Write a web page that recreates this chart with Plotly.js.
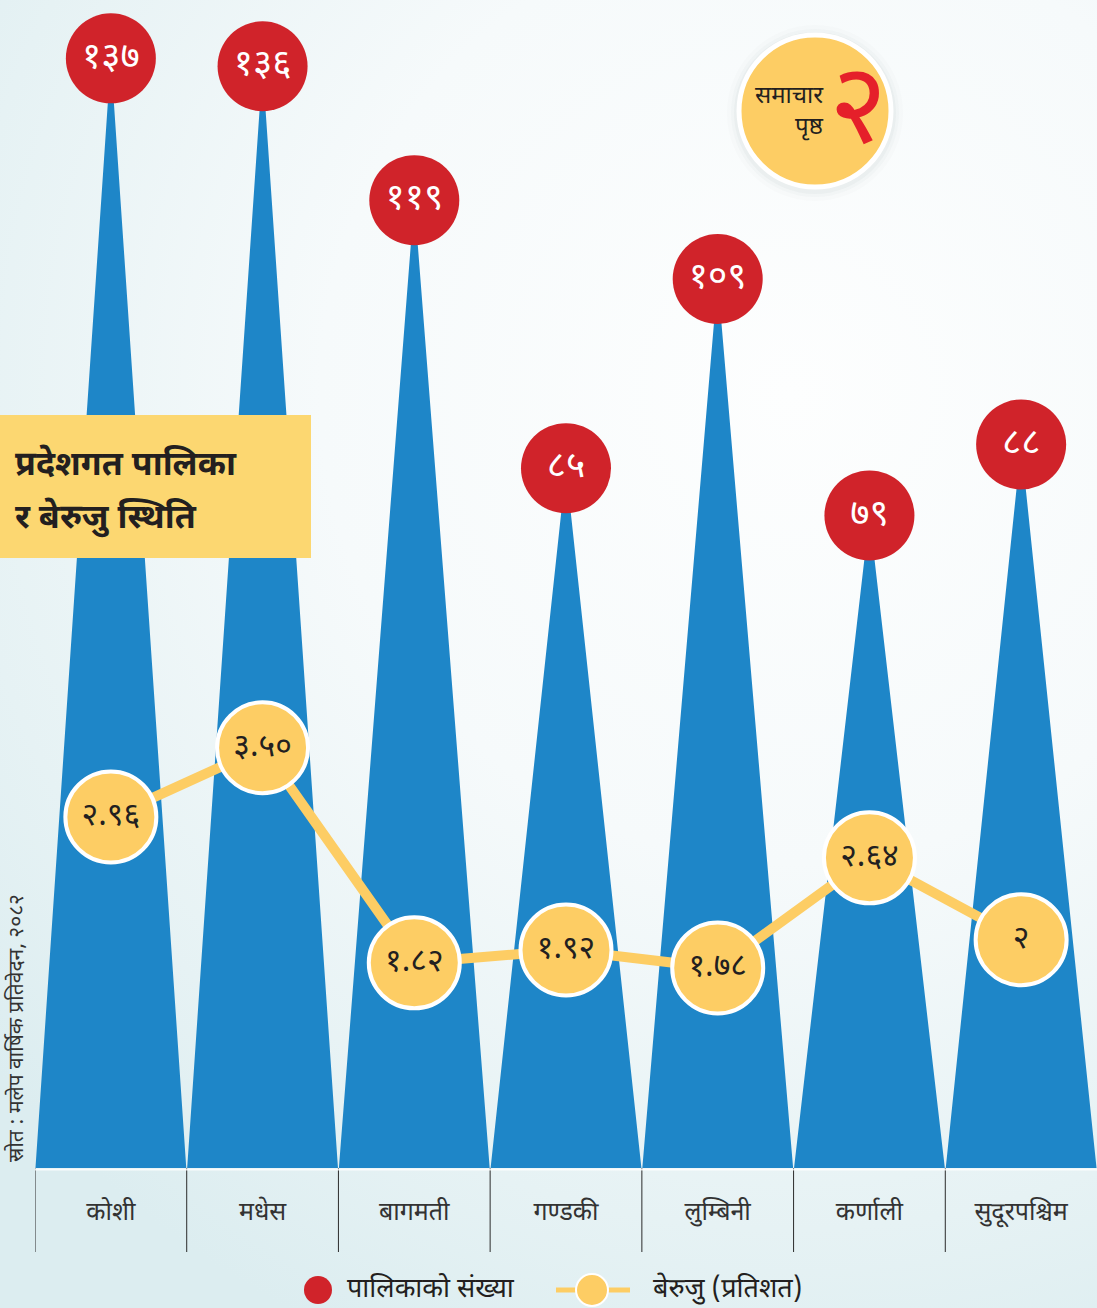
<!DOCTYPE html>
<html>
<head>
<meta charset="utf-8">
<script src="https://cdn.plot.ly/plotly-3.0.1.min.js"></script>
<style>
  html, body { margin: 0; padding: 0; }
  body {
    width: 1097px; height: 1308px; overflow: hidden;
    background: radial-gradient(ellipse 95% 80% at 72% 30%, #fdfefe 0%, #f6fafb 45%, #e6f2f4 80%, #dcedf0 100%);
  }
  #chart { width: 1097px; height: 1308px; }
</style>
</head>
<body>
<div id="chart"></div>
<script>
// ---- data ----
const provinces = ['कोशी', 'मधेस', 'बागमती', 'गण्डकी', 'लुम्बिनी', 'कर्णाली', 'सुदूरपश्चिम'];
const palika = [137, 136, 119, 85, 109, 79, 88];
const palikaLabels = ['१३७', '१३६', '११९', '८५', '१०९', '७९', '८८'];
const beruju = [2.96, 3.50, 1.82, 1.92, 1.78, 2.64, 2];
const berujuLabels = ['२.९६', '३.५०', '१.८२', '१.९२', '१.७८', '२.६४', '२'];
const seriesNames = ['पालिकाको संख्या', 'बेरुजु (प्रतिशत)'];

const FONT = '"Noto Sans Devanagari", "Noto Sans", "Lohit Devanagari", sans-serif';
const BLUE = '#1E86C8';
const RED = '#D0232A';
const YEL = '#FDCD64';
const BOX = '#FCD771';
const INK = '#231f20';

const W = 1097, H = 1308, ML = 35, MB = 140;
const PW = W - ML, PH = H - MB;
const px = x => (x - ML) / PW;       // pixel -> paper
const py = y => (PH - y) / PH;

const yMin = -3.8, yMax = 144.4;
const idx = provinces.map((_, i) => i);

// triangles (one polygon per province, base at axis bottom, apex at value)
const tx = [], ty = [];
idx.forEach(i => {
  tx.push(i - 0.497, i, i + 0.497, null);
  ty.push(yMin, palika[i], yMin, null);
});

const traces = [
  {
    x: tx, y: ty, type: 'scatter', mode: 'lines', fill: 'toself',
    fillcolor: BLUE, line: { width: 0, color: BLUE }, hoverinfo: 'skip',
    showlegend: false
  },
  {
    x: idx, y: beruju, yaxis: 'y2', type: 'scatter', mode: 'lines+markers+text',
    name: seriesNames[1], showlegend: false,
    line: { color: YEL, width: 10 },
    marker: { size: 91, color: YEL, line: { color: '#ffffff', width: 4 } },
    text: berujuLabels, textposition: 'middle center',
    textfont: { family: FONT, size: 32, color: INK },
    cliponaxis: false
  },
  {
    x: idx, y: palika, type: 'scatter', mode: 'markers+text',
    name: seriesNames[0], showlegend: false,
    marker: { size: 90, color: RED },
    text: palikaLabels, textposition: 'middle center',
    textfont: { family: FONT, size: 37, color: '#ffffff' },
    cliponaxis: false
  }
];

// category separators
const shapes = [];
for (let i = 0; i <= provinces.length - 1; i++) {
  shapes.push({
    type: 'line', xref: 'x', yref: 'paper', x0: i - 0.5, x1: i - 0.5,
    y0: 0, y1: py(1252), line: { color: '#2b2b2b', width: 1 }, layer: 'above'
  });
}
shapes.push({
  type: 'line', xref: 'paper', yref: 'paper', x0: 0, x1: 1, y0: py(1169.5), y1: py(1169.5),
  line: { color: 'rgba(255,255,255,0.8)', width: 2 }
});
// title box
shapes.push({
  type: 'rect', xref: 'paper', yref: 'paper', x0: px(0), x1: px(311), y0: py(558), y1: py(415),
  fillcolor: BOX, line: { width: 0 }, layer: 'above'
});
// logo circle with soft shadow
[[88, 'rgba(120,130,140,0.025)'], [84, 'rgba(120,130,140,0.035)'], [81, 'rgba(120,130,140,0.05)']].forEach(([r, c]) => {
  shapes.push({
    type: 'circle', xref: 'paper', yref: 'paper',
    x0: px(815 - r), x1: px(815 + r), y0: py(113 + r), y1: py(113 - r),
    fillcolor: c, line: { width: 0 }, layer: 'above'
  });
});
shapes.push({
  type: 'circle', xref: 'paper', yref: 'paper',
  x0: px(815 - 76), x1: px(815 + 76), y0: py(111 + 76), y1: py(111 - 76),
  fillcolor: YEL, line: { color: '#ffffff', width: 5 }, layer: 'above'
});

// legend (drawn manually for larger symbols)
const LY = 1290;
shapes.push({
  type: 'circle', xref: 'paper', yref: 'paper',
  x0: px(318 - 14), x1: px(318 + 14), y0: py(LY + 14), y1: py(LY - 14),
  fillcolor: RED, line: { width: 0 }
});
shapes.push({
  type: 'line', xref: 'paper', yref: 'paper',
  x0: px(556), x1: px(630), y0: py(LY), y1: py(LY),
  line: { color: YEL, width: 5 }
});
shapes.push({
  type: 'circle', xref: 'paper', yref: 'paper',
  x0: px(592 - 16), x1: px(592 + 16), y0: py(LY + 16), y1: py(LY - 16),
  fillcolor: YEL, line: { color: '#ffffff', width: 2 }
});

const annotations = [
  { text: 'प्रदेशगत पालिका', x: px(13), y: py(467), xref: 'paper', yref: 'paper',
    xanchor: 'left', yanchor: 'middle', showarrow: false,
    font: { family: FONT, size: 34, color: INK, weight: 700 } },
  { text: 'र बेरुजु स्थिति', x: px(13), y: py(519), xref: 'paper', yref: 'paper',
    xanchor: 'left', yanchor: 'middle', showarrow: false,
    font: { family: FONT, size: 34, color: INK, weight: 700 } },
  { text: 'समाचार', x: px(826), y: py(97), xref: 'paper', yref: 'paper',
    xanchor: 'right', yanchor: 'middle', showarrow: false,
    font: { family: FONT, size: 24, color: INK } },
  { text: 'पृष्ठ', x: px(826), y: py(128), xref: 'paper', yref: 'paper',
    xanchor: 'right', yanchor: 'middle', showarrow: false,
    font: { family: FONT, size: 24, color: INK } },
  { text: '२', x: px(858), y: py(116), xref: 'paper', yref: 'paper',
    xanchor: 'center', yanchor: 'middle', showarrow: false,
    font: { family: FONT, size: 112, color: '#E5202A' } },
  { text: 'स्रोत : मलेप वार्षिक प्रतिवेदन, २०८२', x: px(18), y: py(1028), xref: 'paper', yref: 'paper',
    xanchor: 'center', yanchor: 'middle', textangle: -90, showarrow: false,
    font: { family: FONT, size: 21, color: '#333333' } },
  { text: seriesNames[0], x: px(345), y: py(LY), xref: 'paper', yref: 'paper',
    xanchor: 'left', yanchor: 'middle', showarrow: false,
    font: { family: FONT, size: 27, color: INK } },
  { text: seriesNames[1], x: px(651), y: py(LY), xref: 'paper', yref: 'paper',
    xanchor: 'left', yanchor: 'middle', showarrow: false,
    font: { family: FONT, size: 27, color: INK } }
];

const layout = {
  width: W, height: H,
  margin: { l: ML, r: 0, t: 0, b: MB },
  paper_bgcolor: 'rgba(0,0,0,0)', plot_bgcolor: 'rgba(0,0,0,0)',
  showlegend: false,
  xaxis: {
    range: [-0.5, provinces.length - 0.5], tickvals: idx, ticktext: provinces,
    showgrid: false, zeroline: false, showline: false,
    ticks: 'outside', ticklen: 21, tickcolor: 'rgba(0,0,0,0)',
    tickfont: { family: FONT, size: 25, color: '#333333' }, fixedrange: true
  },
  yaxis: {
    range: [yMin, yMax], visible: false, fixedrange: true
  },
  yaxis2: {
    range: [0.217, 9.342], overlaying: 'y', visible: false, fixedrange: true
  },
  shapes: shapes,
  annotations: annotations
};

Plotly.newPlot('chart', traces, layout, { displayModeBar: false, staticPlot: true });
</script>
</body>
</html>
